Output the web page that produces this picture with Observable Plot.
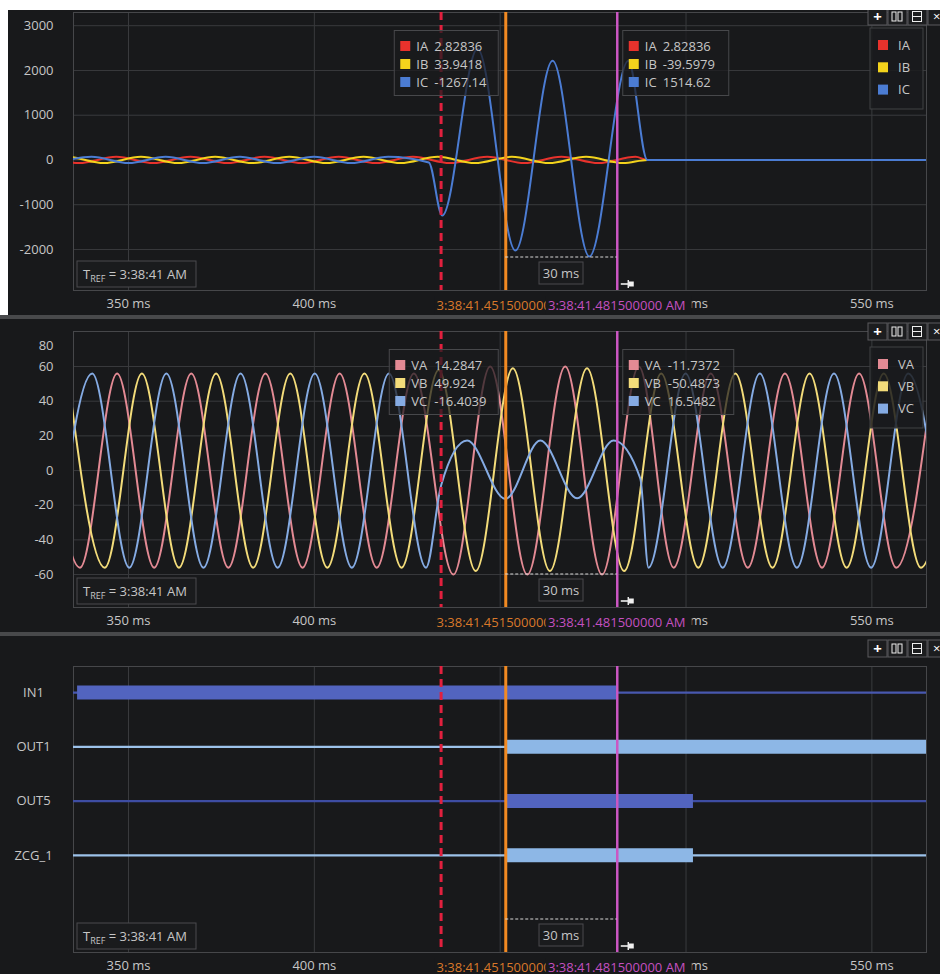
<!DOCTYPE html>
<html>
<head>
<meta charset="utf-8">
<script src="https://cdn.jsdelivr.net/npm/d3@7"></script>
<script src="https://cdn.jsdelivr.net/npm/@observablehq/plot@0.6"></script>
<style>
  html,body{margin:0;padding:0;background:#ffffff;}
  #root{position:relative;width:940px;height:974px;overflow:hidden;background:#ffffff;}
  .panel{position:absolute;left:0;width:940px;background:#18191b;overflow:hidden;}
  .panel svg{display:block;}
  .sep{position:absolute;left:0;width:940px;background:#48494b;}
</style>
</head>
<body>
<div id="root">
  <div class="panel" id="p1" style="top:10px;height:305px"></div>
  <div class="sep" style="top:315px;height:4px"></div>
  <div class="panel" id="p2" style="top:319px;height:313px"></div>
  <div class="sep" style="top:632px;height:4px"></div>
  <div class="panel" id="p3" style="top:636px;height:338px"></div>
  <div style="position:absolute;left:0;top:0;width:8px;height:315px;background:#ffffff"></div>
</div>
<script>
const FONT = "'Open Sans', 'Noto Sans', sans-serif";
const TEXT = "#c6c6c6";
const GRID = "#393a3d";
const FRAME = "#46474a";

// ---- shared time axis (ms after TREF) ----
const xTicks = [350, 400, 450, 500, 550];
const xLabelTicks = [350, 400, 500, 550];   // 450 ms label is hidden under the cursor label
const xDomain = [335.2, 564.7];
const tRefLabel = "3:38:41 AM";
const cursorRed = 434.1;
const cursorOrange = 451.5;
const cursorMagenta = 481.5;
const orangeLabel = "3:38:41.451500000 AM";
const magentaLabel = "3:38:41.481500000 AM";
const deltaLabel = "30 ms";

// ---- currents panel ----
const currentTicks = [-2000, -1000, 0, 1000, 2000, 3000];
const currentDomain = [-2917, 3295];
const currentNames = ["IA", "IB", "IC"];
const currentColors = ["#e8322c", "#f3d31c", "#4b7cd3"];
const currentAtOrange = ["2.82836", "33.9418", "-1267.14"];
const currentAtMagenta = ["2.82836", "-39.5979", "1514.62"];
const IA = [[326.74,70],[336.72,-70],[346.70,70],[356.68,-70],[366.66,70],[376.64,-70],[386.62,70],[396.60,-70],[406.58,70],[416.56,-70],[426.54,70],[436.52,-70],[446.50,70],[456.48,-70],[466.46,70],[476.44,-70],[486.42,70],[489.60,0],[570.00,0]];
const IB = [[323.41,-70],[333.39,70],[343.37,-70],[353.35,70],[363.33,-70],[373.31,70],[383.29,-70],[393.27,70],[403.25,-70],[413.23,70],[423.21,-70],[433.19,70],[443.17,-70],[453.15,70],[463.13,-70],[473.11,70],[483.09,-70],[489.60,0],[570.00,0]];
const IC = [[330.06,-70],[340.04,70],[350.02,-70],[360.00,70],[369.98,-70],[379.96,70],[389.94,-70],[399.92,70],[409.90,-70],[419.88,70],[430.80,-55],[434.40,-1243],[443.90,2484],[454.10,-2025],[464.10,2216],[474.00,-2158],[484.50,2216],[489.60,0],[570.00,0]];

// ---- voltages panel ----
const voltageTicks = [-60, -40, -20, 0, 20, 40, 60];
const voltageTopTick = "80";
const voltageDomain = [-79, 80.2];
const voltageNames = ["VA", "VB", "VC"];
const voltageColors = ["#e38a94", "#f3dc7a", "#85abe3"];
const voltageAtOrange = ["14.2847", "49.924", "-16.4039"];
const voltageAtMagenta = ["-11.7372", "-50.4873", "16.5482"];
const VA = [[326.97,56],[336.95,-56],[346.93,56],[356.91,-56],[366.89,56],[376.87,-56],[386.85,56],[396.83,-56],[406.81,56],[416.79,-56],[426.77,56],[437.40,-60],[447.30,60],[457.30,-60],[467.50,60],[477.40,-60],[487.30,60],[496.67,-56],[506.65,56],[516.63,-56],[526.61,56],[536.59,-56],[546.57,56],[556.55,-56],[566.53,56]];
const VB = [[333.64,56],[343.62,-56],[353.60,56],[363.58,-56],[373.56,56],[383.54,-56],[393.52,56],[403.50,-56],[413.48,56],[423.46,-56],[433.44,58],[443.42,-58],[453.40,59],[463.38,-58],[473.36,59],[483.34,-58],[493.32,56],[503.30,-56],[513.28,56],[523.26,-56],[533.24,56],[543.22,-56],[553.20,56],[563.18,-56],[573.16,56]];
const VC = [[330.25,-56],[340.23,56],[350.21,-56],[360.19,56],[370.17,-56],[380.15,56],[390.13,-56],[400.11,56],[410.09,-56],[420.07,56],[430.05,-56],[434.10,-8.6],[441.10,17.3],[451.40,-16.4],[460.80,17.3],[470.70,-16],[480.50,17.3],[487.70,-4.6],[489.90,-56],[499.89,56],[509.87,-56],[519.85,56],[529.83,-56],[539.81,56],[549.79,-56],[559.77,56],[569.75,-56]];

// ---- digital panel ----
const channels = ["IN1", "OUT1", "OUT5", "ZCG_1"];
const channelHighColors = ["#5264bf", "#8db7e6", "#5264bf", "#8db7e6"];
const channelLowColors = ["#4858b0", "#9cc2ea", "#3e4da3", "#9cc2ea"];
const highStart = [336.3, 451.6, 451.6, 451.6];
const highEnd = [481.5, 564.7, 502.0, 502.0];
const channelDomain = [4.79, -0.48];

// ---------------------------------------------------------------
const P = d => d[0], V = d => d[1];
const plain = d => String(d);

function commonMarks() {
  return [
    Plot.ruleX([cursorRed], {stroke: "#e2203e", strokeWidth: 3, strokeDasharray: "8,5"}),
    Plot.ruleX([cursorOrange], {stroke: "#f28a22", strokeWidth: 3}),
    Plot.ruleX([cursorMagenta], {stroke: "#cb57c3", strokeWidth: 2.5}),
    Plot.axisX(xLabelTicks, {tickSize: 0, tickPadding: 8, tickFormat: d => `${d} ms`, fontSize: 13})
  ];
}

function makePanel(el, o) {
  const plot = Plot.plot({
    width: 940, height: o.height,
    marginLeft: 73, marginRight: 14, marginTop: o.mt, marginBottom: o.mb,
    style: {background: "transparent", color: TEXT, fontFamily: FONT, fontSize: "13px"},
    x: {domain: xDomain},
    y: o.y,
    marks: o.marks
  });
  el.appendChild(plot);
  decorate(plot, o);
  return plot;
}

function decorate(plot, o) {
  const sx = plot.scale("x");
  const X = t => sx.apply(t);
  const svg = d3.select(plot);
  const top = o.mt, bottom = o.height - o.mb;
  const g = svg.append("g").attr("font-family", FONT).attr("font-size", 13).attr("text-anchor", "start");
  const xo = X(cursorOrange), xm = X(cursorMagenta);

  // tooltips & legend
  if (o.names) {
    const tipTop = top + 18.5;
    const addTip = (bx, w, vals) => {
      g.append("rect").attr("x", bx).attr("y", tipTop).attr("width", w).attr("height", 65)
        .attr("fill", "#1a1b1d").attr("fill-opacity", 0.72).attr("stroke", "#47484b");
      o.names.forEach((n, i) => {
        const cy = tipTop + 15.5 + i * 18;
        g.append("rect").attr("x", bx + 6).attr("y", cy - 5).attr("width", 10).attr("height", 10).attr("fill", o.colors[i]);
        g.append("text").attr("x", bx + 22).attr("y", cy).attr("dy", "0.35em").attr("fill", TEXT).text(n);
        g.append("text").attr("x", bx + o.valueDx).attr("y", cy).attr("dy", "0.35em").attr("fill", TEXT).text(vals[i]);
      });
    };
    addTip(xo - 7 - o.tipW, o.tipW, o.atOrange);
    addTip(xm + 6, o.tipW + 2, o.atMagenta);

    g.append("rect").attr("x", 870).attr("y", top + 16).attr("width", 53).attr("height", 81)
      .attr("fill", "#1a1b1d").attr("fill-opacity", 0.85).attr("stroke", "#414245");
    o.names.forEach((n, i) => {
      const cy = top + 33 + i * 22.3;
      g.append("rect").attr("x", 878).attr("y", cy - 5).attr("width", 10).attr("height", 10).attr("fill", o.colors[i]);
      g.append("text").attr("x", 898).attr("y", cy).attr("dy", "0.35em").attr("fill", TEXT).text(n);
    });
  }

  // delta measurement
  g.append("line").attr("x1", xo).attr("x2", xm).attr("y1", bottom - 33).attr("y2", bottom - 33)
    .attr("stroke", "#d8d8d8").attr("stroke-width", 1).attr("stroke-dasharray", "3,2");
  const cx = (xo + xm) / 2;
  g.append("rect").attr("x", cx - 22).attr("y", bottom - 28).attr("width", 44).attr("height", 22)
    .attr("fill", "#1a1b1d").attr("stroke", "#4a4b4e");
  g.append("text").attr("x", cx).attr("y", bottom - 17).attr("dy", "0.35em").attr("text-anchor", "middle")
    .attr("fill", TEXT).text(deltaLabel);
  // pin icon
  g.append("line").attr("x1", xm + 4).attr("x2", xm + 12).attr("y1", bottom - 6).attr("y2", bottom - 6)
    .attr("stroke", "#f0f0f0").attr("stroke-width", 1.6);
  g.append("line").attr("x1", xm + 11.5).attr("x2", xm + 11.5).attr("y1", bottom - 10).attr("y2", bottom - 2)
    .attr("stroke", "#f0f0f0").attr("stroke-width", 1.4);
  g.append("rect").attr("x", xm + 12).attr("y", bottom - 8.5).attr("width", 5).attr("height", 5).attr("fill", "#f0f0f0");

  // TREF box
  g.append("rect").attr("x", 77).attr("y", bottom - 29).attr("width", 119).attr("height", 26)
    .attr("fill", "#1a1b1d").attr("stroke", "#4a4b4e");
  const tt = g.append("text").attr("x", 83).attr("y", bottom - 11.5).attr("fill", TEXT);
  tt.append("tspan").text("T");
  tt.append("tspan").attr("font-size", 9).attr("dy", 3).text("REF");
  tt.append("tspan").attr("dy", -3).text(" = " + tRefLabel);

  // cursor time labels under axis
  const ly = bottom + 15;
  g.append("rect").attr("x", xo - 71).attr("y", ly - 9).attr("width", 142).attr("height", 18).attr("fill", "#18191b");
  g.append("text").attr("x", xo).attr("y", ly).attr("dy", "0.35em").attr("text-anchor", "middle")
    .attr("fill", "#d8782a").text(orangeLabel);
  g.append("rect").attr("x", xm - 71).attr("y", ly - 9).attr("width", 146).attr("height", 18).attr("fill", "#18191b");
  g.append("text").attr("x", xm).attr("y", ly).attr("dy", "0.35em").attr("text-anchor", "middle")
    .attr("fill", "#c450c0").text(magentaLabel);

  // header buttons
  const by = o.btnY;
  const bg = g.append("g");
  [0, 1, 2, 3].forEach(i => {
    const bx = 868 + i * 20;
    bg.append("rect").attr("x", bx).attr("y", by).attr("width", 19).attr("height", 17)
      .attr("fill", "#1c1d1f").attr("stroke", "#5a5b5e");
  });
  bg.append("text").attr("x", 877.5).attr("y", by + 8.5).attr("dy", "0.36em").attr("text-anchor", "middle")
    .attr("fill", "#fff").attr("font-weight", "bold").attr("font-size", 15).text("+");
  bg.append("rect").attr("x", 892).attr("y", by + 4).attr("width", 4).attr("height", 9).attr("fill", "none").attr("stroke", "#eee");
  bg.append("rect").attr("x", 898).attr("y", by + 4).attr("width", 4).attr("height", 9).attr("fill", "none").attr("stroke", "#eee");
  bg.append("rect").attr("x", 912.5).attr("y", by + 3.5).attr("width", 9).attr("height", 10).attr("fill", "none").attr("stroke", "#eee");
  bg.append("line").attr("x1", 912.5).attr("x2", 921.5).attr("y1", by + 8.5).attr("y2", by + 8.5).attr("stroke", "#eee");
  bg.append("text").attr("x", 933).attr("y", by + 8.5).attr("dy", "0.36em").attr("text-anchor", "start")
    .attr("fill", "#fff").attr("font-size", 13).text("×");
}

// ---- Panel 1: currents ----
makePanel(document.getElementById("p1"), {
  height: 305, mt: 2, mb: 25, btnY: -2, tipW: 104, valueDx: 40,
  names: currentNames, colors: currentColors, atOrange: currentAtOrange, atMagenta: currentAtMagenta,
  y: {domain: currentDomain},
  marks: [
    Plot.gridX(xTicks, {stroke: GRID, strokeOpacity: 1}),
    Plot.gridY(currentTicks, {stroke: GRID, strokeOpacity: 1}),
    Plot.frame({stroke: FRAME}),
    Plot.line(IA, {x: P, y: V, stroke: currentColors[0], strokeWidth: 2, curve: "monotone-x", clip: true}),
    Plot.line(IB, {x: P, y: V, stroke: currentColors[1], strokeWidth: 2, curve: "monotone-x", clip: true}),
    Plot.line(IC, {x: P, y: V, stroke: currentColors[2], strokeWidth: 2, curve: "monotone-x", clip: true}),
    Plot.axisY(currentTicks, {tickSize: 0, tickPadding: 20, fontSize: 13, tickFormat: plain}),
    ...commonMarks()
  ]
});

// ---- Panel 2: voltages ----
makePanel(document.getElementById("p2"), {
  height: 313, mt: 12, mb: 25, btnY: 4, tipW: 109, valueDx: 45,
  names: voltageNames, colors: voltageColors, atOrange: voltageAtOrange, atMagenta: voltageAtMagenta,
  y: {domain: voltageDomain},
  marks: [
    Plot.gridX(xTicks, {stroke: GRID, strokeOpacity: 1}),
    Plot.gridY(voltageTicks, {stroke: GRID, strokeOpacity: 1}),
    Plot.frame({stroke: FRAME}),
    Plot.line(VA, {x: P, y: V, stroke: voltageColors[0], strokeWidth: 2, curve: "monotone-x", clip: true}),
    Plot.line(VB, {x: P, y: V, stroke: voltageColors[1], strokeWidth: 2, curve: "monotone-x", clip: true}),
    Plot.line(VC, {x: P, y: V, stroke: voltageColors[2], strokeWidth: 2, curve: "monotone-x", clip: true}),
    Plot.axisY(voltageTicks, {tickSize: 0, tickPadding: 20, fontSize: 13, tickFormat: plain}),
    Plot.text([voltageTopTick], {frameAnchor: "top-left", dx: -20, dy: 9, textAnchor: "end", text: d => d, fontSize: 13, fill: TEXT}),
    ...commonMarks()
  ]
});

// ---- Panel 3: digital channels ----
const idx = channels.map((c, i) => i);
makePanel(document.getElementById("p3"), {
  height: 338, mt: 30, mb: 22, btnY: 4,
  y: {domain: channelDomain, axis: null},
  marks: [
    Plot.gridX(xTicks, {stroke: GRID, strokeOpacity: 1}),
    Plot.frame({stroke: FRAME}),
    Plot.ruleY(idx, {y: i => i, x1: xDomain[0], x2: xDomain[1], stroke: i => channelLowColors[i], strokeWidth: 2.2}),
    Plot.ruleY(idx, {y: i => i, x1: i => highStart[i], x2: i => highEnd[i], stroke: i => channelHighColors[i], strokeWidth: 14}),
    Plot.text(idx, {y: i => i, text: i => channels[i], frameAnchor: "left", dx: -40, textAnchor: "middle", fill: TEXT, fontSize: 13}),
    ...commonMarks()
  ]
});
</script>
</body>
</html>
